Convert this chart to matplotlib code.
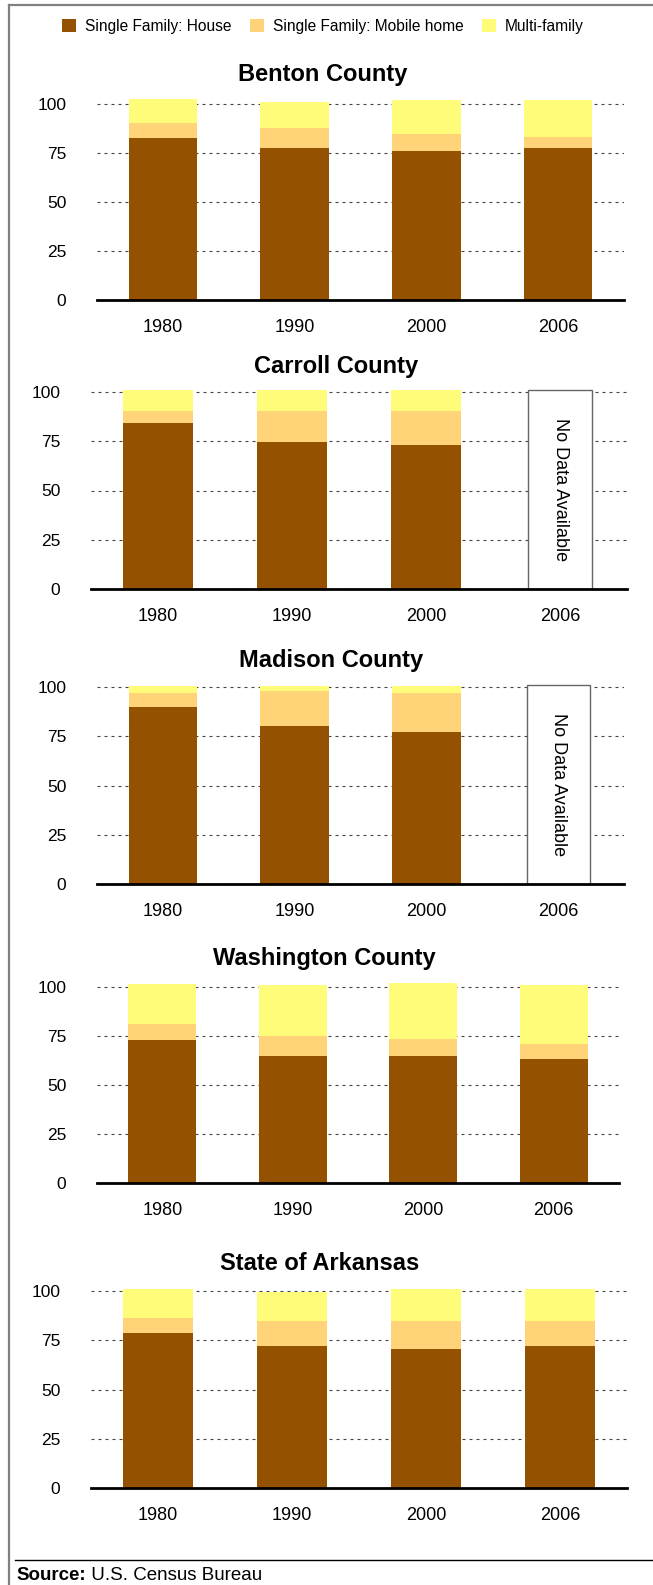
import numpy as np
import matplotlib
matplotlib.use("Agg")
import matplotlib.pyplot as plt
from matplotlib.patches import Patch
from matplotlib.lines import Line2D

plt.rcParams['font.family'] = ['Liberation Sans', 'DejaVu Sans']

# Data (percent of housing units), None = no data available
years = ["1980", "1990", "2000", "2006"]
regions = ["Benton County", "Carroll County", "Madison County",
           "Washington County", "State of Arkansas"]
series = ["Single Family: House", "Single Family: Mobile home", "Multi-family"]
colors = ["#945200", "#FFD479", "#FFFC79"]

house = [
    [82.9, 77.3, 75.8, 77.3],
    [84.2, 74.5, 72.9, None],
    [89.6, 80.0, 77.3, None],
    [73.2, 64.9, 64.9, 63.4],
    [78.5, 71.9, 70.4, 71.9],
]
mobile = [
    [7.6, 10.2, 9.1, 6.1],
    [6.0, 15.7, 17.3, None],
    [7.3, 18.2, 19.6, None],
    [7.7, 10.2, 8.7, 7.7],
    [7.7, 12.8, 14.3, 12.8],
]
multi = [
    [12.2, 13.7, 17.3, 18.8],
    [10.7, 10.7, 10.7, None],
    [3.8, 2.5, 3.8, None],
    [20.4, 25.8, 28.5, 29.8],
    [14.7, 14.9, 16.2, 16.2],
]
no_data_height = 101

# figure size in pixels
W, H = 653, 1585
fig = plt.figure(figsize=(W / 100, H / 100), dpi=100)

def fx(px):
    return px / W

def fy(py):
    return 1 - py / H

# panel layout: x left, x right, y of 100, y of 0, title y, title x (pixels)
layout = [
    (97, 624, 104, 300, 74, 323),
    (91, 627, 392, 589, 366, 336),
    (97, 624, 687, 884, 660, 331),
    (97, 619, 987, 1183, 958, 324),
    (91, 627, 1291, 1488, 1263, 320),
]
ytop = 104

for i, region in enumerate(regions):
    xl, xr, y100, y0, ty, tx = layout[i]
    top_px = y0 - (y0 - y100) * ytop / 100
    ax = fig.add_axes([fx(xl), fy(y0), fx(xr - xl), (y0 - top_px) / H])

    idx = [j for j in range(len(years)) if house[i][j] is not None]
    h = np.array([house[i][j] for j in idx])
    m = np.array([mobile[i][j] for j in idx])
    mf = np.array([multi[i][j] for j in idx])
    ax.bar(idx, h, width=0.52, color=colors[0], zorder=2)
    ax.bar(idx, m, width=0.52, bottom=h, color=colors[1], zorder=2)
    ax.bar(idx, mf, width=0.52, bottom=h + m, color=colors[2], zorder=2)

    missing = [j for j in range(len(years)) if house[i][j] is None]
    for j in missing:
        ax.bar(j, no_data_height, width=0.48, color="white",
               edgecolor="#666666", linewidth=1.0, zorder=3)
        ax.text(j, no_data_height / 2, "No Data Available", rotation=-90,
                ha="center", va="center", fontsize=13, zorder=4)

    ax.set_xlim(-0.5, 3.5)
    ax.set_ylim(0, ytop)
    ax.set_yticks([0, 25, 50, 75, 100])
    ax.set_xticks(range(len(years)))
    ax.set_xticklabels(years)
    ax.tick_params(axis="y", length=0, pad=22, labelsize=12.5)
    ax.tick_params(axis="x", length=0, pad=14, labelsize=13)
    ax.yaxis.grid(True, color="#444444", linestyle=(0, (2.7, 3.6)),
                  linewidth=0.8, zorder=1)
    ax.set_axisbelow(True)
    for s in ["top", "right", "left"]:
        ax.spines[s].set_visible(False)
    ax.spines["bottom"].set_linewidth(2)
    ax.spines["bottom"].set_zorder(5)
    ax.patch.set_alpha(0)

    fig.text(fx(tx), fy(ty), region, ha="center", va="center",
             fontsize=17, fontweight="bold")

# legend
handles = [Patch(facecolor=c, edgecolor="none", label=s) for s, c in zip(series, colors)]
fig.legend(handles=handles, loc="center", bbox_to_anchor=(fx(323), fy(26)),
           ncol=3, frameon=False, fontsize=11.2, handlelength=0.9,
           handleheight=0.9, handletextpad=0.6, columnspacing=1.15)

# frame (cropped) and source line
fig.add_artist(Line2D([fx(9), 1], [fy(5), fy(5)], color="#808080", linewidth=1.6))
fig.add_artist(Line2D([fx(9), fx(9)], [fy(5), 0], color="#808080", linewidth=1.6))
fig.add_artist(Line2D([fx(15), 1], [fy(1560), fy(1560)], color="black", linewidth=1.0))

t1 = fig.text(fx(16), fy(1575), "Source:", ha="left", va="center",
              fontsize=13.5, fontweight="bold")
ax.annotate(" U.S. Census Bureau", xy=(1, 0.5), xycoords=t1,
            ha="left", va="center", fontsize=13.5, annotation_clip=False)

fig.savefig("out.png", dpi=100)
